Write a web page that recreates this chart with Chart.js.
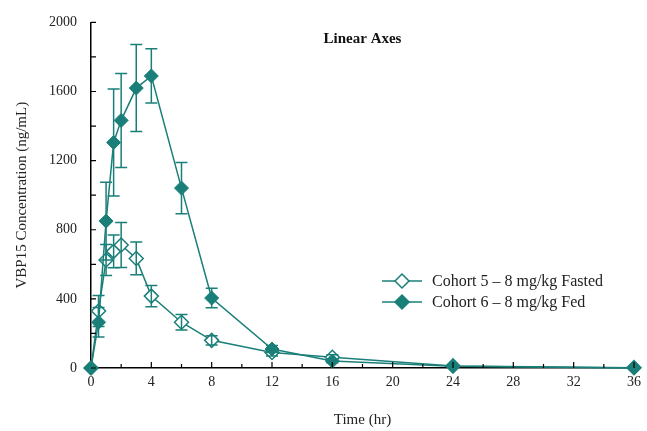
<!DOCTYPE html>
<html>
<head>
<meta charset="utf-8">
<script src="https://cdn.jsdelivr.net/npm/chart.js@4.4.1/dist/chart.umd.min.js"></script>
<style>
  html, body { margin: 0; padding: 0; background: #fff; }
  #wrap { width: 647px; height: 431px; }
</style>
</head>
<body>
<div id="wrap"><canvas id="pk"></canvas></div>
<script>
// Time points (hr)
const times = [0, 0.5, 1, 1.5, 2, 3, 4, 6, 8, 12, 16, 24, 36];

// Cohort 5 - fasted (mean, SD)
const fastedMean = [0, 330, 625, 675, 712, 634, 416, 265, 160, 90, 62, 12, 2];
const fastedErr  = [0, 90, 90, 95, 130, 95, 62, 45, 27, 20, 14, 0, 0];

// Cohort 6 - fed (mean, SD)
const fedMean = [0, 265, 850, 1305, 1433, 1620, 1690, 1041, 405, 110, 40, 10, 0];
const fedErr  = [0, 85, 225, 310, 272, 252, 157, 148, 56, 20, 10, 0, 0];

const teal = "#1a7f78";
const serif = "'Liberation Serif', 'DejaVu Serif', serif";

function toPoints(ys) {
  return times.map((t, i) => ({ x: t, y: ys[i] }));
}

// error bars, drawn over the lines like the original
const errorBars = {
  id: "errorBars",
  afterDatasetsDraw(chart) {
    const { ctx, scales: { x, y } } = chart;
    const errs = [fastedErr, fedErr];
    ctx.save();
    ctx.strokeStyle = teal;
    ctx.lineWidth = 1.5;
    chart.data.datasets.forEach((ds, di) => {
      ds.data.forEach((p, i) => {
        const e = errs[di][i];
        if (!e) return;
        const px = x.getPixelForValue(p.x);
        const top = y.getPixelForValue(p.y + e);
        const bot = y.getPixelForValue(p.y - e);
        ctx.beginPath();
        ctx.moveTo(px, top); ctx.lineTo(px, bot);
        ctx.moveTo(px - 6, top); ctx.lineTo(px + 6, top);
        ctx.moveTo(px - 6, bot); ctx.lineTo(px + 6, bot);
        ctx.stroke();
      });
    });
    ctx.restore();
  }
};

// inward tick marks, title and legend inside the plot
const extras = {
  id: "extras",
  afterDraw(chart) {
    const { ctx, chartArea: a, scales: { x, y } } = chart;
    ctx.save();
    ctx.strokeStyle = "#000";
    ctx.lineWidth = 1.2;
    ctx.beginPath();
    for (let v = 0; v <= 2000; v += 200) {
      const py = y.getPixelForValue(v);
      ctx.moveTo(a.left, py); ctx.lineTo(a.left + 5, py);
    }
    for (let t = 2; t <= 36; t += 2) {
      const px = x.getPixelForValue(t);
      const len = t % 4 === 0 ? 6 : 4;
      ctx.moveTo(px, a.bottom); ctx.lineTo(px, a.bottom - len);
    }
    ctx.stroke();

    // title
    ctx.fillStyle = "#111";
    ctx.font = "bold 15px " + serif;
    ctx.textAlign = "center";
    ctx.textBaseline = "middle";
    ctx.fillText("Linear Axes", x.getPixelForValue(18), y.getPixelForValue(1905));

    // legend
    const labels = chart.data.datasets.map(d => d.label);
    const rows = [281, 302];
    ctx.font = "16px " + serif;
    ctx.textAlign = "left";
    rows.forEach((ry, i) => {
      ctx.strokeStyle = teal;
      ctx.lineWidth = 1.5;
      ctx.beginPath();
      ctx.moveTo(382, ry); ctx.lineTo(422, ry);
      ctx.stroke();
      ctx.beginPath();
      ctx.moveTo(402, ry - 7); ctx.lineTo(409, ry);
      ctx.lineTo(402, ry + 7); ctx.lineTo(395, ry);
      ctx.closePath();
      ctx.fillStyle = i === 0 ? "#fff" : teal;
      ctx.fill();
      ctx.stroke();
      ctx.fillStyle = "#222";
      ctx.fillText(labels[i], 432, ry + 1);
    });
    ctx.restore();
  }
};

new Chart(document.getElementById("pk"), {
  type: "line",
  data: {
    datasets: [
      {
        label: "Cohort 5 \u2013 8 mg/kg Fasted",
        data: toPoints(fastedMean),
        borderColor: teal,
        borderWidth: 1.5,
        pointStyle: "rectRot",
        pointRadius: 7,
        pointBorderWidth: 1.5,
        pointBackgroundColor: "#fff",
        pointBorderColor: teal,
        tension: 0,
        clip: false,
        order: 2
      },
      {
        label: "Cohort 6 \u2013 8 mg/kg Fed",
        data: toPoints(fedMean),
        borderColor: teal,
        borderWidth: 1.5,
        pointStyle: "rectRot",
        pointRadius: 7,
        pointBorderWidth: 1,
        pointBackgroundColor: teal,
        pointBorderColor: teal,
        tension: 0,
        clip: false,
        order: 1
      }
    ]
  },
  options: {
    responsive: true,
    maintainAspectRatio: false,
    animation: false,
    layout: { padding: { left: 0, right: 10, top: 14, bottom: 0 } },
    plugins: {
      legend: { display: false },
      tooltip: { enabled: false }
    },
    scales: {
      x: {
        type: "linear",
        min: 0,
        max: 36,
        afterFit(s) { s.height = 63; },
        grid: { drawOnChartArea: false, drawTicks: false },
        border: { color: "#000", width: 1.5 },
        ticks: {
          stepSize: 4,
          padding: 6,
          color: "#222",
          font: { family: serif, size: 14 },
          callback: v => String(v)
        },
        title: {
          display: true,
          text: "Time (hr)",
          color: "#222",
          font: { family: serif, size: 15 },
          padding: { top: 0, bottom: 2 }
        }
      },
      y: {
        min: 0,
        max: 2000,
        afterFit(s) { s.width = 91; },
        grid: { drawOnChartArea: false, drawTicks: false },
        border: { color: "#000", width: 1.5 },
        ticks: {
          stepSize: 400,
          padding: 14,
          color: "#222",
          font: { family: serif, size: 14 },
          callback: v => String(v)
        },
        title: {
          display: true,
          text: "VBP15 Concentration (ng/mL)",
          color: "#222",
          font: { family: serif, size: 15 },
          padding: { top: 13, bottom: 0 }
        }
      }
    }
  },
  plugins: [errorBars, extras]
});
</script>
</body>
</html>
